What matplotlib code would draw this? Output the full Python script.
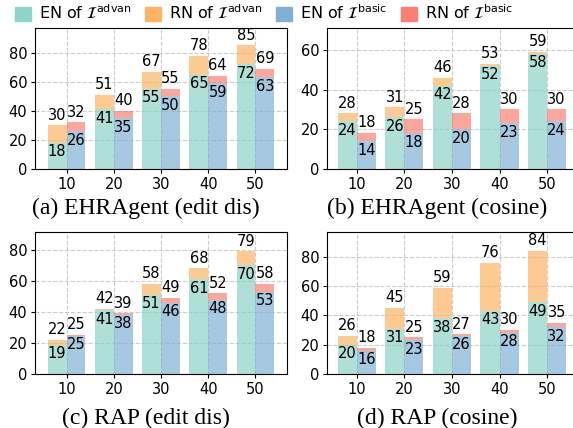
import matplotlib
matplotlib.use("Agg")
import matplotlib.pyplot as plt
import numpy as np
from matplotlib.patches import Patch

groups = [10, 20, 30, 40, 50]

# (a) EHRAgent (edit dis)
a_adv_en = [18, 41, 55, 65, 72]
a_adv_tot = [30, 51, 67, 78, 85]
a_bas_en = [26, 35, 50, 59, 63]
a_bas_tot = [32, 40, 55, 64, 69]
# (b) EHRAgent (cosine)
b_adv_en = [24, 26, 42, 52, 58]
b_adv_tot = [28, 31, 46, 53, 59]
b_bas_en = [14, 18, 20, 23, 24]
b_bas_tot = [18, 25, 28, 30, 30]
# (c) RAP (edit dis)
c_adv_en = [19, 41, 51, 61, 70]
c_adv_tot = [22, 42, 58, 68, 79]
c_bas_en = [24.6, 38, 46, 48, 53]
c_bas_tot = [25.3, 39, 49, 52, 58]
# (d) RAP (cosine)
d_adv_en = [20, 31, 38, 43, 49]
d_adv_tot = [26, 45, 59, 76, 84]
d_bas_en = [16, 23, 26, 28, 32]
d_bas_tot = [18, 25, 27, 30, 35]

captions = ["(a) EHRAgent (edit dis)", "(b) EHRAgent (cosine)",
            "(c) RAP (edit dis)", "(d) RAP (cosine)"]
legend_labels = [r"EN of $\mathcal{I}^{\mathrm{advan}}$", r"RN of $\mathcal{I}^{\mathrm{advan}}$",
                 r"EN of $\mathcal{I}^{\mathrm{basic}}$", r"RN of $\mathcal{I}^{\mathrm{basic}}$"]

c_en_adv = "#8dd3c7"
c_rn_adv = "#fdb462"
c_en_bas = "#80b1d3"
c_rn_bas = "#fb8072"
ALPHA = 0.7
FS = 10.5

W, H = 573, 428
fig = plt.figure(figsize=(W / 100, H / 100), dpi=100)

def px_axes(left, top, right, bottom):
    return fig.add_axes([left / W, (H - bottom) / H, (right - left) / W, (bottom - top) / H])

panels = [
    (a_adv_en, a_adv_tot, a_bas_en, a_bas_tot, (35, 28, 287, 169), -0.67, 97),
    (b_adv_en, b_adv_tot, b_bas_en, b_bas_tot, (327, 28, 579, 169), -0.625, 71),
    (c_adv_en, c_adv_tot, c_bas_en, c_bas_tot, (35, 232, 287, 374), -0.67, 91.5),
    (d_adv_en, d_adv_tot, d_bas_en, d_bas_tot, (327, 232, 579, 374), -0.625, 97),
]
cap_pos = [(146, 208), (437, 208), (146, 418), (437, 418)]

bw = 0.4
x = np.arange(len(groups))
for i, (aen, atot, ben, btot, box, xl, ymax) in enumerate(panels):
    ax = px_axes(*box)
    aen = np.array(aen, float); atot = np.array(atot, float)
    ben = np.array(ben, float); btot = np.array(btot, float)
    xa = x - bw / 2
    xb = x + bw / 2
    ax.bar(xa, aen, bw, color=c_en_adv, alpha=ALPHA, zorder=2)
    ax.bar(xa, atot - aen, bw, bottom=aen, color=c_rn_adv, alpha=ALPHA, zorder=2)
    ax.bar(xb, ben, bw, color=c_en_bas, alpha=ALPHA, zorder=2)
    ax.bar(xb, btot - ben, bw, bottom=ben, color=c_rn_bas, alpha=ALPHA, zorder=2)
    for xs, en, tot in ((xa, aen, atot), (xb, ben, btot)):
        for xx, e, t in zip(xs, en, tot):
            ax.annotate(f"{round(e)}", (xx, e), xytext=(0, -1.0), textcoords="offset points",
                        ha="center", va="top", fontsize=FS, zorder=3)
            ax.annotate(f"{round(t)}", (xx, t), xytext=(0, 2), textcoords="offset points",
                        ha="center", va="bottom", fontsize=FS, zorder=3)
    ax.set_xticks(x)
    ax.set_xticklabels([str(g) for g in groups])
    ax.set_xlim(xl, 4.67)
    ax.set_ylim(0, ymax)
    ax.yaxis.set_major_locator(matplotlib.ticker.MultipleLocator(20))
    ax.tick_params(labelsize=FS, length=3, pad=2.5)
    ax.grid(True, linestyle="--", color="#cccccc", linewidth=0.8, zorder=0)
    ax.set_axisbelow(True)
    cx, cy = cap_pos[i]
    fig.text(cx / W, 1 - cy / H, captions[i], ha="center", va="center",
             fontsize=17, family="Liberation Serif")

handles = [Patch(color=c) for c in (c_en_adv, c_rn_adv, c_en_bas, c_rn_bas)]
fig.legend(handles, legend_labels, loc="center", bbox_to_anchor=(264 / W, 1 - 13 / H),
           ncol=4, frameon=False, fontsize=11.5, handlelength=1.0, handleheight=1.0,
           handletextpad=0.5, columnspacing=0.85, borderpad=0)

fig.savefig("out.png", dpi=100)
